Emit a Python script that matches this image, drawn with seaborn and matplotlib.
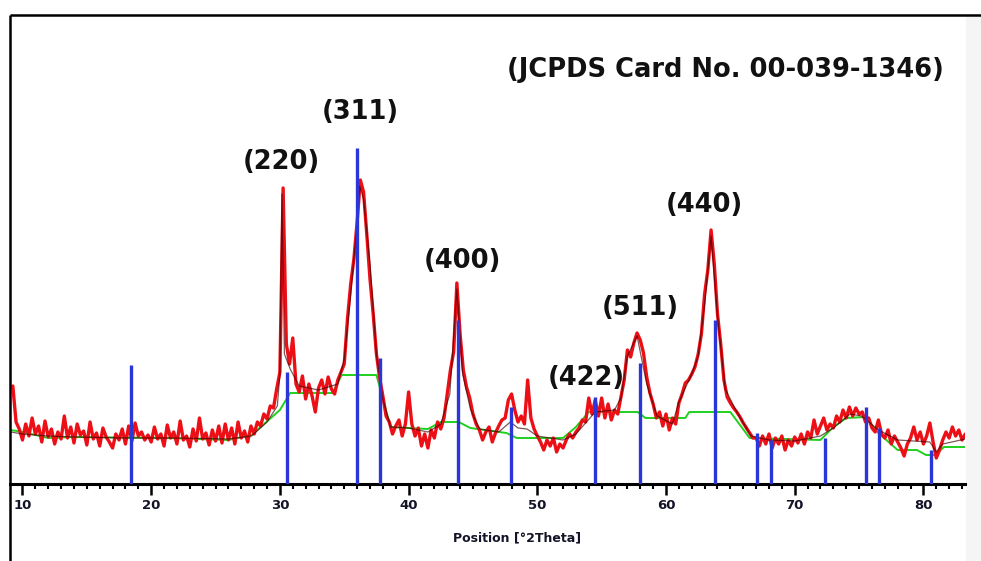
import numpy as np
import pandas as pd
import matplotlib
matplotlib.use("Agg")
import matplotlib.pyplot as plt
from matplotlib.lines import Line2D
from matplotlib.patches import Rectangle
from matplotlib.ticker import MultipleLocator
import seaborn as sns

# ---- measured pattern (step scan, 0.25 deg per step, starting at 9.25 deg 2theta) ----
scan_start = 9.25
scan_step = 0.25
counts = [
    98, 62, 55,                 # 9.25 - 9.75
    44, 60, 48, 66,             # 10
    50, 58, 42, 63,             # 11
    47, 55, 40, 52,             # 12
    45, 68, 46, 57,             # 13
    41, 60, 49, 53,             # 14
    39, 62, 45, 51,             # 15
    38, 56, 47, 42,             # 16
    36, 50, 44, 55,             # 17
    40, 58, 43, 61,             # 18
    48, 52, 44, 49,             # 19
    42, 57, 45, 50,             # 20
    38, 59, 46, 52,             # 21
    40, 63, 44, 48,             # 22
    37, 55, 43, 66,             # 23
    45, 51, 39, 54,             # 24
    43, 58, 41, 60,             # 25
    44, 56, 40, 62,             # 26
    46, 53, 42, 58,             # 27
    50, 62, 58, 70,             # 28
    65, 78, 76, 95,             # 29
    112, 296, 140, 120,         # 30
    146, 100, 92, 108,          # 31
    85, 100, 88, 72,            # 32
    96, 104, 90, 107,           # 33
    95, 90, 104, 112,           # 34
    120, 165, 200, 225,         # 35
    262, 304, 292, 250,         # 36
    205, 170, 130, 106,         # 37
    88, 68, 62, 50,             # 38
    58, 64, 48, 60,             # 39
    92, 60, 48, 56,             # 40
    38, 50, 36, 54,             # 41
    46, 62, 55, 66,             # 42
    90, 114, 132, 201,          # 43
    150, 114, 97, 86,           # 44
    70, 60, 54, 44,             # 45
    52, 57, 42, 51,             # 46
    58, 64, 66, 84,             # 47
    90, 74, 62, 68,             # 48
    60, 104, 66, 55,            # 49
    48, 42, 34, 44,             # 50
    38, 46, 32, 40,             # 51
    36, 44, 50, 46,             # 52
    52, 56, 64, 62,             # 53
    86, 70, 84, 68,             # 54
    86, 66, 80, 64,             # 55
    74, 70, 87, 104,            # 56
    134, 127, 141, 151,         # 57
    144, 131, 107, 91,          # 58
    80, 66, 72, 58,             # 59
    70, 54, 66, 60,             # 60
    81, 90, 101, 104,           # 61
    110, 117, 130, 150,         # 62
    190, 214, 254, 220,         # 63
    170, 140, 104, 87,          # 64
    81, 76, 72, 67,             # 65
    61, 56, 51, 46,             # 66
    46, 38, 48, 40,             # 67
    50, 36, 46, 40,             # 68
    48, 34, 44, 38,             # 69
    47, 41, 50, 40,             # 70
    52, 46, 64, 50,             # 71
    58, 66, 54, 60,             # 72
    56, 68, 62, 74,             # 73
    66, 77, 68, 76,             # 74
    70, 72, 62, 66,             # 75
    56, 52, 64, 50,             # 76
    46, 54, 40, 48,             # 77
    42, 36, 28, 40,             # 78
    46, 57, 44, 52,             # 79
    40, 48, 61, 42,             # 80
    26, 34, 44, 52,             # 81
    46, 57, 48, 54,             # 82
    44, 50,                     # 83.0 - 83.25
]
two_theta = scan_start + scan_step * np.arange(len(counts))

# ---- fitted background ----
bg_theta = [9.1, 10.0, 12.0, 14.0, 21.2, 26.0, 27.8, 30.0, 30.8, 34.1, 34.8, 37.5,
            38.6, 41.5, 42.5, 43.9, 44.8, 47.6, 48.4, 52.0, 53.0, 54.0, 57.8, 58.4,
            61.5, 61.8, 65.0, 66.5, 72.0, 73.0, 74.0, 75.5, 76.5, 78.0, 79.5, 80.2,
            80.9, 81.6, 83.25]
bg_counts = [54, 52, 46, 47, 46, 44, 49, 74, 91, 91, 109, 109,
             57, 55, 62, 62, 56, 51, 46, 46, 57, 72, 72, 66,
             66, 72, 72, 46, 44, 57, 66, 67, 51, 34, 34, 29,
             29, 37, 37]

# ---- calculated profile ----
fit_theta = [9.1, 10.0, 12.0, 14.0, 18.0, 22.0, 26.0, 27.8, 29.0, 29.8, 30.0, 30.16,
             30.35, 30.8, 31.5, 33.0, 34.5, 35.0, 35.5, 36.0, 36.2, 36.5, 37.0, 37.5,
             38.0, 38.6, 40.0, 41.5, 42.5, 43.2, 43.75, 44.2, 44.8, 45.5, 47.0, 47.9,
             48.5, 49.2, 50.0, 52.0, 53.0, 54.5, 56.0, 56.5, 57.0, 57.75, 58.5, 59.3,
             60.5, 61.0, 62.0, 62.5, 63.0, 63.5, 64.0, 64.6, 65.5, 66.6, 68.0, 70.0,
             72.0, 73.0, 74.3, 75.2, 76.5, 78.0, 80.5, 81.0, 81.5, 83.25]
fit_counts = [52, 50, 48, 47, 46, 46, 45, 48, 62, 78, 110, 290,
              130, 115, 98, 94, 100, 125, 190, 260, 298, 285, 220, 130,
              85, 57, 56, 52, 60, 90, 195, 110, 75, 55, 52, 62,
              56, 55, 48, 44, 50, 72, 74, 86, 128, 148, 100, 68,
              60, 82, 110, 128, 180, 248, 168, 95, 72, 48, 44, 43,
              48, 56, 70, 68, 54, 44, 42, 32, 40, 45]

# ---- reference card lines (JCPDS 00-039-1346) ----
ref_theta = [18.43, 30.55, 35.99, 37.78, 43.83, 47.96, 54.48, 57.98, 63.81,
             67.07, 68.15, 72.35, 75.54, 76.55, 80.59]
ref_int = [119, 112, 336, 126, 164, 77, 87, 121, 164,
           51, 44, 46, 77, 56, 34]

# ---- reflection labels ----
hkl_labels = ["(220)", "(311)", "(400)", "(422)", "(511)", "(440)"]
hkl_theta = [30.09, 36.22, 44.15, 53.78, 57.98, 62.95]
hkl_y = [322, 372, 223, 106, 176, 279]
card_text = "(JCPDS Card No. 00-039-1346)"

RED = "#ec0f16"
BLUE = "#2a36d8"
GREEN = "#1fd01f"
DARK = "#3a0000"
TEXT = "#141428"

sns.set_theme(style="white")
plt.rcParams["font.family"] = ["DejaVu Sans"]

W, H = 981, 561
fig = plt.figure(figsize=(W / 100, H / 100), dpi=100)
fig.patch.set_facecolor("white")

# pale strip on the right edge and the frame lines
fig.add_artist(Rectangle((966 / W, 0), 1 - 966 / W, (H - 16) / H,
                         transform=fig.transFigure, color="#f5f5f5", zorder=0, lw=0))
fig.add_artist(Line2D([10 / W, 10 / W], [0, (H - 15) / H], transform=fig.transFigure,
                      color="black", lw=1.8, solid_capstyle="butt"))
fig.add_artist(Line2D([10 / W, 1.0], [(H - 15) / H, (H - 15) / H], transform=fig.transFigure,
                      color="black", lw=1.8, solid_capstyle="butt"))

ax = fig.add_axes([10 / W, (H - 484) / H, (965 - 10) / W, (484 - 15) / H])
ax.set_facecolor("none")

pattern = pd.DataFrame({"two_theta": two_theta, "counts": counts})
background = pd.DataFrame({"two_theta": bg_theta, "counts": bg_counts})
profile = pd.DataFrame({"two_theta": fit_theta, "counts": fit_counts})

sns.lineplot(data=background, x="two_theta", y="counts", ax=ax, color=GREEN, lw=1.4,
             estimator=None, sort=False, legend=False, zorder=2)
sns.lineplot(data=pattern, x="two_theta", y="counts", ax=ax, color=RED, lw=2.4,
             estimator=None, sort=False, legend=False, zorder=3)
sns.lineplot(data=profile, x="two_theta", y="counts", ax=ax, color=DARK, lw=0.9,
             alpha=0.65, estimator=None, sort=False, legend=False, zorder=4)

ax.vlines(ref_theta, 0, ref_int, color=BLUE, lw=2.4, zorder=5)

for lab, tx, ty in zip(hkl_labels, hkl_theta, hkl_y):
    ax.text(tx, ty, lab, ha="center", va="center", fontsize=18.5,
            fontweight="bold", color="#111111")
ax.text(64.58, 414, card_text, ha="center", va="center", fontsize=18.5,
        fontweight="bold", color="#111111")

ax.set_xlim(9.03, 83.23)
ax.set_ylim(0, 469)
for side in ("left", "right", "top"):
    ax.spines[side].set_visible(False)
ax.spines["bottom"].set_linewidth(2.2)
ax.spines["bottom"].set_color("black")

ax.xaxis.set_major_locator(MultipleLocator(10))
ax.xaxis.set_minor_locator(MultipleLocator(1))
ax.set_yticks([])
ax.tick_params(axis="x", which="major", direction="out", length=8, width=1.8,
               color="black", labelsize=9.5, labelcolor=TEXT, pad=3, bottom=True)
ax.tick_params(axis="x", which="minor", direction="out", length=3.5, width=1.5,
               color="black", bottom=True)
for lbl in ax.get_xticklabels():
    lbl.set_fontweight("bold")
ax.set_xlabel("")
ax.set_ylabel("")
ax.text(0.531, -0.115, "Position [°2Theta]", transform=ax.transAxes, ha="center",
        va="center", fontsize=9, fontweight="bold", color=TEXT)

fig.savefig("out.png", dpi=100, facecolor="white")
